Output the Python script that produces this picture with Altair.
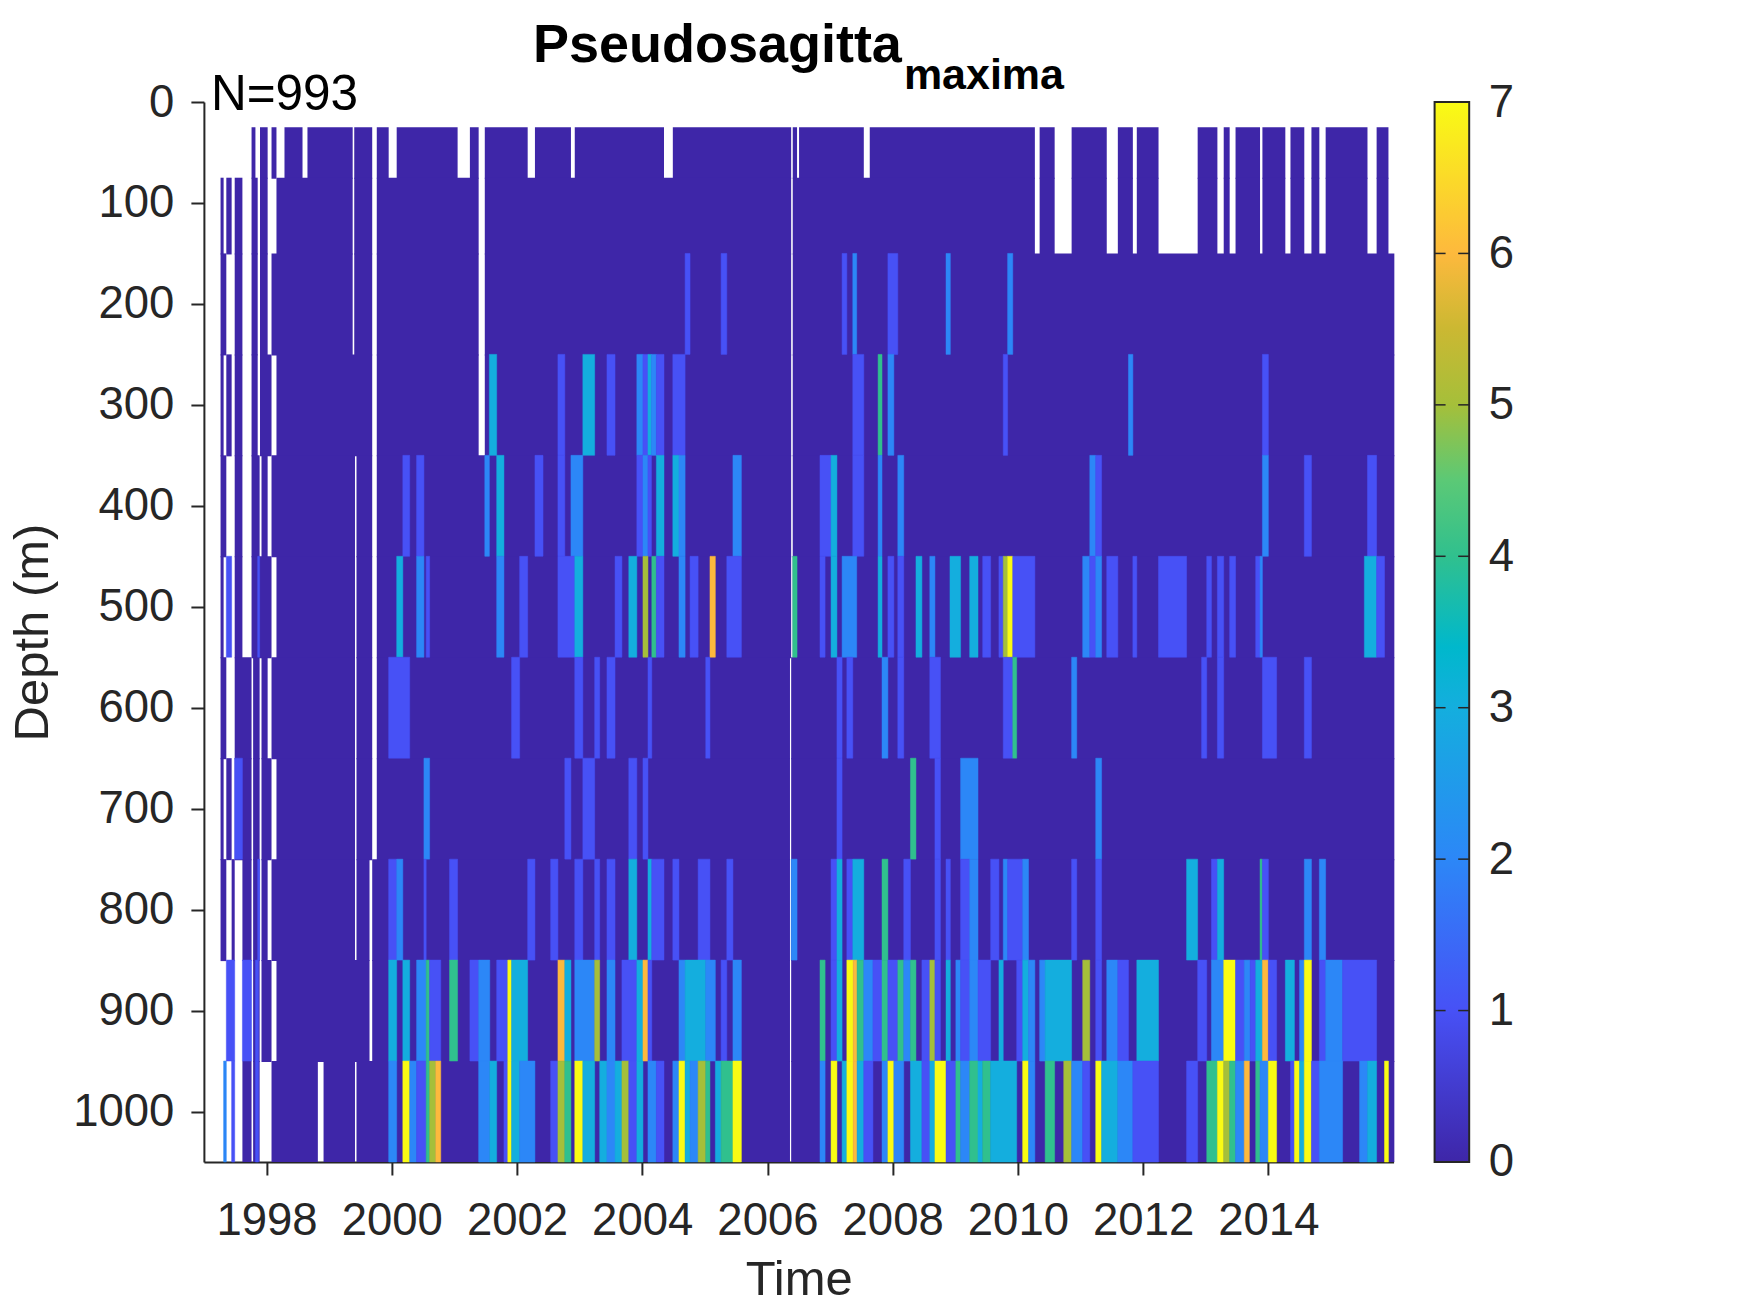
import altair as alt
import pandas as pd

band_top = [25, 75, 150, 250, 350, 450, 550, 650, 750, 850, 950]
band_bottom = [75, 150, 250, 350, 450, 550, 650, 750, 850, 950, 1050]
seam_overlap = [1, 1, 1, 1, 1, 1, 1, 1, 1, 1, 0]

tail = [(2010.347, 2010.587), (2010.858, 2011.419), (2011.596, 2011.836), (2011.899, 2012.246),
        (2012.871, 2013.186), (2013.287, 2013.382), (2013.476, 2013.867), (2013.905, 2014.271),
        (2014.353, 2014.574), (2014.688, 2014.814), (2014.915, 2015.583), (2015.729, 2015.918)]

sampled_25 = [(1997.761, 1997.823), (1997.896, 1998.018), (1998.080, 1998.159), (1998.287, 1998.575),
              (1998.654, 1999.376), (1999.401, 1999.688), (1999.761, 1999.951), (2000.079, 2001.052),
              (2001.248, 2001.388), (2001.486, 2002.171), (2002.287, 2002.862), (2002.923, 2004.348),
              (2004.489, 2006.379), (2006.404, 2006.473), (2006.505, 2007.539), (2007.634, 2010.271)] + tail
sampled_75 = [(1997.266, 1997.315), (1997.358, 1997.443), (1997.492, 1997.615), (1997.761, 1997.859),
              (1997.896, 1998.018), (1998.159, 1999.376), (1999.401, 1999.688), (1999.761, 2001.388),
              (2001.486, 2006.379), (2006.404, 2010.271)] + tail
sampled_150 = [(1997.266, 1997.358), (1997.492, 1997.615), (1997.761, 1997.859), (1997.896, 1998.018),
               (1998.080, 1999.376), (1999.401, 1999.688), (1999.761, 2001.388), (2001.486, 2006.379),
               (2006.404, 2016.012)]
sampled_250 = [(1997.266, 1997.315), (1997.358, 1997.443), (1997.492, 1997.615), (1997.761, 1997.859),
               (1997.896, 1998.080), (1998.159, 1999.688), (1999.761, 2001.388), (2001.486, 2006.379),
               (2006.404, 2016.012)]
sampled_350 = [(1997.266, 1997.358), (1997.492, 1997.615), (1997.761, 1997.890), (1997.920, 1998.018),
               (1998.080, 1999.413), (1999.437, 1999.688), (1999.761, 2006.379), (2006.404, 2016.012)]
sampled_450 = [(1997.266, 1997.315), (1997.492, 1997.615), (1997.761, 1998.080), (1998.159, 1999.413),
               (1999.437, 1999.688), (1999.761, 2006.379), (2006.404, 2016.012)]
sampled_550 = [(1997.266, 1997.358), (1997.492, 1997.761), (1997.786, 1997.890), (1997.920, 1998.018),
               (1998.080, 1999.413), (1999.437, 1999.688), (1999.761, 2006.360), (2006.379, 2016.012)]
sampled_650 = [(1997.266, 1997.315), (1997.358, 1997.443), (1997.492, 1997.761), (1997.786, 1997.890),
               (1997.920, 1998.080), (1998.159, 1999.413), (1999.437, 1999.688), (1999.761, 2006.360),
               (2006.379, 2016.012)]
sampled_750 = [(1997.266, 1997.358), (1997.443, 1997.492), (1997.615, 1997.761), (1997.786, 1997.890),
               (1997.920, 1998.018), (1998.080, 1999.413), (1999.437, 1999.645), (1999.688, 2006.360),
               (2006.379, 2016.012)]
sampled_850 = [(1997.786, 1997.890), (1997.920, 1998.080), (1998.159, 1999.645), (1999.688, 2006.360),
               (2006.379, 2016.012)]
sampled_950 = [(1997.615, 1997.761), (1997.786, 1997.890), (1998.080, 1998.820), (1998.911, 1999.413),
               (1999.437, 2006.360), (2006.379, 2016.012)]
sampled = [sampled_25, sampled_75, sampled_150, sampled_250, sampled_350, sampled_450,
           sampled_550, sampled_650, sampled_750, sampled_850, sampled_950]

counts_150 = [(2004.685, 2004.764, 1), (2005.260, 2005.351, 1), (2007.192, 2007.268, 1), (2007.363, 2007.426, 2),
              (2007.924, 2008.082, 1), (2008.852, 2008.921, 2), (2009.836, 2009.918, 2)]
counts_250 = [(2001.559, 2001.676, 3), (2002.654, 2002.764, 1), (2003.052, 2003.241, 3), (2003.437, 2003.566, 1),
              (2003.914, 2004.012, 2), (2004.012, 2004.092, 1), (2004.092, 2004.147, 3), (2004.147, 2004.226, 2),
              (2004.226, 2004.348, 1), (2004.489, 2004.685, 1), (2007.363, 2007.539, 1), (2007.767, 2007.830, 4),
              (2007.924, 2008.019, 2), (2009.766, 2009.836, 1), (2011.766, 2011.836, 2), (2013.905, 2014.000, 1)]
counts_350 = [(2000.177, 2000.287, 1), (2000.397, 2000.514, 1), (2001.486, 2001.559, 2), (2001.676, 2001.792, 3),
              (2002.287, 2002.416, 1), (2002.654, 2002.764, 1), (2002.862, 2003.052, 2), (2003.914, 2004.012, 1),
              (2004.012, 2004.092, 2), (2004.092, 2004.147, 1), (2004.226, 2004.348, 3), (2004.489, 2004.587, 3),
              (2004.587, 2004.685, 2), (2005.449, 2005.584, 2), (2006.839, 2007.016, 1), (2007.016, 2007.110, 3),
              (2007.363, 2007.539, 1), (2007.767, 2007.830, 2), (2008.082, 2008.177, 2), (2011.148, 2011.243, 2),
              (2011.243, 2011.337, 1), (2013.905, 2014.000, 2), (2014.574, 2014.688, 1), (2015.583, 2015.729, 1)]
counts_450 = [(1997.358, 1997.443, 1), (1997.859, 1997.890, 1), (2000.079, 2000.177, 3), (2000.397, 2000.514, 2),
              (2000.550, 2000.605, 1), (2001.676, 2001.792, 2), (2002.043, 2002.171, 1), (2002.654, 2002.923, 1),
              (2002.923, 2003.052, 3), (2003.566, 2003.676, 1), (2003.786, 2003.914, 3), (2004.012, 2004.092, 5),
              (2004.153, 2004.226, 4), (2004.226, 2004.348, 1), (2004.587, 2004.685, 2), (2004.764, 2004.893, 1),
              (2005.082, 2005.168, 6), (2005.351, 2005.584, 1), (2006.404, 2006.473, 4), (2006.839, 2006.921, 1),
              (2007.016, 2007.110, 3), (2007.192, 2007.426, 2), (2007.767, 2007.830, 3), (2007.924, 2008.019, 1),
              (2008.082, 2008.177, 1), (2008.372, 2008.467, 3), (2008.593, 2008.675, 2), (2008.915, 2009.085, 3),
              (2009.230, 2009.363, 3), (2009.438, 2009.565, 1), (2009.697, 2009.766, 1), (2009.766, 2009.836, 5),
              (2009.836, 2009.918, 7), (2009.918, 2010.271, 1), (2011.035, 2011.148, 2), (2011.148, 2011.243, 1),
              (2011.243, 2011.337, 2), (2011.419, 2011.596, 1), (2011.836, 2011.899, 1), (2012.246, 2012.694, 1),
              (2013.016, 2013.091, 1), (2013.186, 2013.287, 1), (2013.382, 2013.476, 1), (2013.798, 2013.867, 1),
              (2013.867, 2013.905, 2), (2015.533, 2015.729, 3), (2015.729, 2015.855, 1)]
counts_550 = [(1999.951, 2000.287, 1), (2001.914, 2002.043, 1), (2002.923, 2003.052, 1), (2003.241, 2003.321, 1),
              (2003.437, 2003.566, 1), (2004.092, 2004.153, 1), (2005.015, 2005.082, 1), (2007.110, 2007.192, 1),
              (2007.268, 2007.363, 1), (2007.830, 2007.924, 2), (2008.082, 2008.177, 1), (2008.593, 2008.763, 1),
              (2009.766, 2009.918, 1), (2009.918, 2009.981, 4), (2010.858, 2010.940, 2), (2012.934, 2013.016, 1),
              (2013.186, 2013.287, 1), (2013.905, 2014.132, 1), (2014.574, 2014.688, 1)]
counts_650 = [(1997.492, 1997.615, 1), (2000.514, 2000.605, 2), (2002.764, 2002.862, 1), (2003.052, 2003.241, 1),
              (2003.786, 2003.914, 1), (2004.012, 2004.092, 1), (2007.110, 2007.192, 1), (2008.284, 2008.372, 4),
              (2008.675, 2008.763, 1), (2009.085, 2009.363, 2), (2011.243, 2011.337, 2)]
counts_750 = [(1997.859, 1997.890, 1), (1999.951, 2000.079, 1), (2000.079, 2000.177, 2), (2000.514, 2000.550, 1),
              (2000.923, 2001.052, 1), (2002.171, 2002.287, 1), (2002.538, 2002.654, 1), (2002.923, 2003.052, 1),
              (2003.241, 2003.321, 1), (2003.437, 2003.566, 1), (2003.786, 2003.914, 3), (2004.092, 2004.153, 3),
              (2004.153, 2004.348, 1), (2004.489, 2004.587, 1), (2004.893, 2005.082, 1), (2005.351, 2005.449, 1),
              (2006.379, 2006.473, 2), (2007.016, 2007.110, 1), (2007.110, 2007.192, 3), (2007.268, 2007.363, 1),
              (2007.363, 2007.539, 3), (2007.830, 2007.924, 4), (2008.177, 2008.284, 1), (2008.675, 2008.763, 1),
              (2008.852, 2008.921, 1), (2009.085, 2009.230, 1), (2009.230, 2009.363, 2), (2009.565, 2009.697, 1),
              (2009.766, 2009.836, 2), (2009.836, 2010.076, 1), (2010.076, 2010.170, 2), (2010.858, 2010.940, 1),
              (2011.243, 2011.337, 1), (2012.694, 2012.871, 3), (2013.091, 2013.186, 1), (2013.186, 2013.287, 3),
              (2013.867, 2013.905, 4), (2013.905, 2014.000, 1), (2014.574, 2014.688, 2), (2014.814, 2014.915, 2)]
counts_850 = [(1997.358, 1997.492, 1), (1997.615, 1997.761, 1), (1997.823, 1997.872, 1), (1999.951, 2000.079, 3),
              (2000.177, 2000.287, 3), (2000.397, 2000.550, 2), (2000.550, 2000.605, 4), (2000.605, 2000.783, 1),
              (2000.923, 2001.052, 4), (2001.248, 2001.388, 1), (2001.388, 2001.566, 2), (2001.676, 2001.853, 1),
              (2001.853, 2001.914, 7), (2001.914, 2002.171, 3), (2002.654, 2002.764, 6), (2002.764, 2002.862, 3),
              (2002.923, 2003.241, 2), (2003.241, 2003.321, 5), (2003.437, 2003.566, 2), (2003.676, 2003.914, 1),
              (2003.914, 2004.012, 3), (2004.012, 2004.092, 6), (2004.092, 2004.153, 1), (2004.587, 2004.685, 2),
              (2004.685, 2005.015, 3), (2005.015, 2005.168, 2), (2005.260, 2005.351, 1), (2005.449, 2005.584, 2),
              (2006.839, 2006.921, 4), (2007.016, 2007.110, 1), (2007.110, 2007.192, 3), (2007.268, 2007.369, 7),
              (2007.369, 2007.432, 6), (2007.432, 2007.539, 4), (2007.539, 2007.685, 2), (2007.685, 2007.830, 1),
              (2007.830, 2007.924, 4), (2007.924, 2008.082, 1), (2008.082, 2008.177, 4), (2008.177, 2008.284, 2),
              (2008.284, 2008.372, 4), (2008.467, 2008.593, 1), (2008.593, 2008.675, 5), (2008.675, 2008.763, 1),
              (2008.852, 2008.921, 3), (2009.009, 2009.085, 2), (2009.085, 2009.230, 1), (2009.230, 2009.363, 2),
              (2009.363, 2009.565, 1), (2009.697, 2009.766, 3), (2009.981, 2010.076, 1), (2010.076, 2010.170, 3),
              (2010.170, 2010.271, 2), (2010.347, 2010.435, 2), (2010.435, 2010.858, 3), (2011.035, 2011.148, 5),
              (2011.243, 2011.337, 1), (2011.419, 2011.596, 2), (2011.596, 2011.766, 1), (2011.899, 2012.246, 3),
              (2012.871, 2013.016, 1), (2013.091, 2013.287, 2), (2013.287, 2013.476, 7), (2013.476, 2013.615, 1),
              (2013.615, 2013.710, 2), (2013.710, 2013.798, 1), (2013.798, 2013.905, 3), (2013.905, 2014.000, 6),
              (2014.000, 2014.132, 1), (2014.271, 2014.416, 3), (2014.498, 2014.574, 2), (2014.574, 2014.688, 7),
              (2014.814, 2014.915, 1), (2014.915, 2015.186, 2), (2015.186, 2015.729, 1)]
counts_950 = [(1997.315, 1997.358, 2), (1997.443, 1997.492, 1), (1997.823, 1997.872, 1), (1999.951, 2000.079, 2),
              (2000.177, 2000.287, 7), (2000.287, 2000.397, 2), (2000.397, 2000.550, 1), (2000.550, 2000.605, 4),
              (2000.605, 2000.703, 5), (2000.703, 2000.783, 6), (2001.388, 2001.566, 2), (2001.566, 2001.676, 3),
              (2001.792, 2001.853, 1), (2001.853, 2001.914, 7), (2001.914, 2002.043, 3), (2002.043, 2002.287, 2),
              (2002.538, 2002.654, 1), (2002.654, 2002.764, 5), (2002.764, 2002.862, 4), (2002.923, 2003.052, 7),
              (2003.052, 2003.241, 3), (2003.321, 2003.437, 3), (2003.437, 2003.566, 2), (2003.566, 2003.676, 3),
              (2003.676, 2003.786, 5), (2003.786, 2003.914, 1), (2003.914, 2004.012, 3), (2004.092, 2004.226, 2),
              (2004.226, 2004.348, 1), (2004.489, 2004.587, 2), (2004.587, 2004.685, 7), (2004.685, 2004.764, 3),
              (2004.764, 2004.893, 2), (2004.893, 2005.015, 5), (2005.015, 2005.082, 4), (2005.168, 2005.260, 3),
              (2005.260, 2005.449, 4), (2005.449, 2005.584, 7), (2006.839, 2006.921, 2), (2007.016, 2007.110, 7),
              (2007.192, 2007.268, 3), (2007.268, 2007.369, 7), (2007.369, 2007.432, 6), (2007.432, 2007.539, 3),
              (2007.539, 2007.685, 1), (2007.830, 2007.924, 2), (2007.924, 2008.019, 7), (2008.019, 2008.177, 2),
              (2008.284, 2008.467, 3), (2008.467, 2008.593, 1), (2008.593, 2008.675, 3), (2008.675, 2008.852, 7),
              (2008.852, 2009.009, 1), (2009.009, 2009.085, 4), (2009.085, 2009.230, 2), (2009.230, 2009.363, 4),
              (2009.363, 2009.438, 3), (2009.438, 2009.565, 4), (2009.565, 2009.981, 3), (2010.076, 2010.170, 7),
              (2010.170, 2010.271, 2), (2010.435, 2010.587, 4), (2010.732, 2010.858, 5), (2010.858, 2011.035, 2),
              (2011.035, 2011.148, 1), (2011.243, 2011.337, 7), (2011.337, 2011.596, 3), (2011.596, 2011.836, 2),
              (2011.836, 2012.246, 1), (2012.694, 2012.871, 1), (2013.016, 2013.186, 4), (2013.186, 2013.287, 7),
              (2013.287, 2013.382, 5), (2013.382, 2013.476, 4), (2013.476, 2013.615, 2), (2013.615, 2013.697, 6),
              (2013.798, 2013.867, 4), (2013.867, 2014.000, 2), (2014.000, 2014.132, 7), (2014.353, 2014.416, 1),
              (2014.416, 2014.498, 7), (2014.498, 2014.574, 3), (2014.574, 2014.688, 7), (2014.688, 2014.814, 1),
              (2014.814, 2015.186, 2), (2015.457, 2015.583, 2), (2015.583, 2015.729, 3), (2015.855, 2015.918, 7)]
counts = [[], [], counts_150, counts_250, counts_350, counts_450, counts_550, counts_650,
          counts_750, counts_850, counts_950]

color_values = [0, 1, 2, 3, 3.4, 4, 4.5, 5, 5.5, 6, 7]
color_hexes = ["#3e26a8", "#4751f6", "#2c87f7", "#14aede", "#00b8cc", "#30c08e", "#5bc976",
               "#a5bf3a", "#cbb832", "#fdb93d", "#f9fb14"]
depth_ticks = [0, 100, 200, 300, 400, 500, 600, 700, 800, 900, 1000]
year_ticks = [1998, 2000, 2002, 2004, 2006, 2008, 2010, 2012, 2014]
bar_ticks = [0, 1, 2, 3, 4, 5, 6, 7]
title_main = "Pseudosagitta"
title_sub = "maxima"
note = "N=993"

cover_rows = []
for i, spans in enumerate(sampled):
    for a, b in spans:
        cover_rows.append(dict(start=a, end=b, top=band_top[i], bottom=band_bottom[i] + seam_overlap[i]))
count_rows = []
for i, spans in enumerate(counts):
    for a, b, v in spans:
        count_rows.append(dict(start=a, end=b, top=band_top[i], bottom=band_bottom[i], value=v))

INK = "#262626"
FONT = "Liberation Sans"
W, H = 1189.7, 1060
SEAM = 0.5
color_scale = alt.Scale(domain=color_values, range=color_hexes)

x_enc = alt.X("start:Q", scale=alt.Scale(domain=[1997.0, 2016.0], nice=False, zero=False),
              axis=alt.Axis(values=year_ticks, format="d", title="Time", grid=False, labelOverlap=False,
                            tickSize=13, tickWidth=2, tickColor=INK, domainWidth=2, domainColor=INK,
                            labelFontSize=45.5, labelColor=INK, labelFont=FONT, labelPadding=24,
                            titleFontSize=49, titleColor=INK, titleFont=FONT, titleFontWeight="normal",
                            titlePadding=11))
y_enc = alt.Y("top:Q", scale=alt.Scale(domain=[1050, 0], nice=False, zero=False),
              axis=alt.Axis(values=depth_ticks, format="d", title="Depth (m)", grid=False, labelOverlap=False,
                            tickSize=13, tickWidth=2, tickColor=INK, domainWidth=2, domainColor=INK,
                            labelFontSize=45.5, labelColor=INK, labelFont=FONT, labelPadding=17,
                            titleFontSize=49, titleColor=INK, titleFont=FONT, titleFontWeight="normal",
                            titlePadding=14.7))

cover = alt.Chart(pd.DataFrame(cover_rows)).mark_rect(color=color_hexes[0]).encode(
    x=x_enc, x2="end:Q", y=y_enc, y2="bottom:Q")
hits = alt.Chart(pd.DataFrame(count_rows)).mark_rect(strokeWidth=SEAM).encode(
    x=alt.X("start:Q"), x2="end:Q", y=alt.Y("top:Q"), y2="bottom:Q",
    color=alt.Color("value:Q", legend=None, scale=color_scale),
    stroke=alt.Stroke("value:Q", legend=None, scale=color_scale))


def label(text, px, py, size, bold):
    return alt.Chart(pd.DataFrame({"t": [text]})).mark_text(
        align="left", baseline="alphabetic", font=FONT, fontSize=size, color="#000000",
        fontWeight="bold" if bold else "normal").encode(
        x=alt.value(px), y=alt.value(py), text="t:N")


main = alt.layer(cover, hits,
                 label(title_main, 329, -40, 54, True),
                 label(title_sub, 700, -13, 43, True),
                 label(note, 7, 8, 49.5, False)).properties(width=W, height=H)

BW = 34.6
stops = [alt.GradientStop(color=c, offset=v / 7) for v, c in zip(color_values, color_hexes)]
ramp = alt.Chart(pd.DataFrame({"lo": [0], "hi": [7]})).mark_rect(
    color=alt.LinearGradient(gradient="linear", stops=stops, x1=0, x2=0, y1=1, y2=0),
    stroke=INK, strokeWidth=2).encode(
    x=alt.value(0), x2=alt.value(BW),
    y=alt.Y("lo:Q", scale=alt.Scale(domain=[0, 7], nice=False),
            axis=alt.Axis(orient="right", values=bar_ticks, format="d", title=None, grid=False, domain=False, ticks=False,
                          labelFontSize=45.5, labelColor=INK, labelFont=FONT, labelPadding=19, labelAlign="left",
                          labelOverlap=False, labelFlush=False)),
    y2="hi:Q")
tdf = pd.DataFrame({"tick": bar_ticks[1:]})
left_ticks = alt.Chart(tdf).mark_rule(color=INK, strokeWidth=1.5).encode(
    x=alt.value(0), x2=alt.value(11), y=alt.Y("tick:Q"))
right_ticks = alt.Chart(tdf).mark_rule(color=INK, strokeWidth=1.5).encode(
    x=alt.value(BW - 11), x2=alt.value(BW), y=alt.Y("tick:Q"))
bar = alt.layer(ramp, left_ticks, right_ticks).properties(width=BW, height=H)

chart = alt.hconcat(main, bar, spacing=38.7).properties(
    padding={"left": 0.9, "top": 11, "right": 5, "bottom": 5}, background="white"
).configure_view(stroke=None)

chart.save("out.html", embed_options={"renderer": "svg", "actions": False})
